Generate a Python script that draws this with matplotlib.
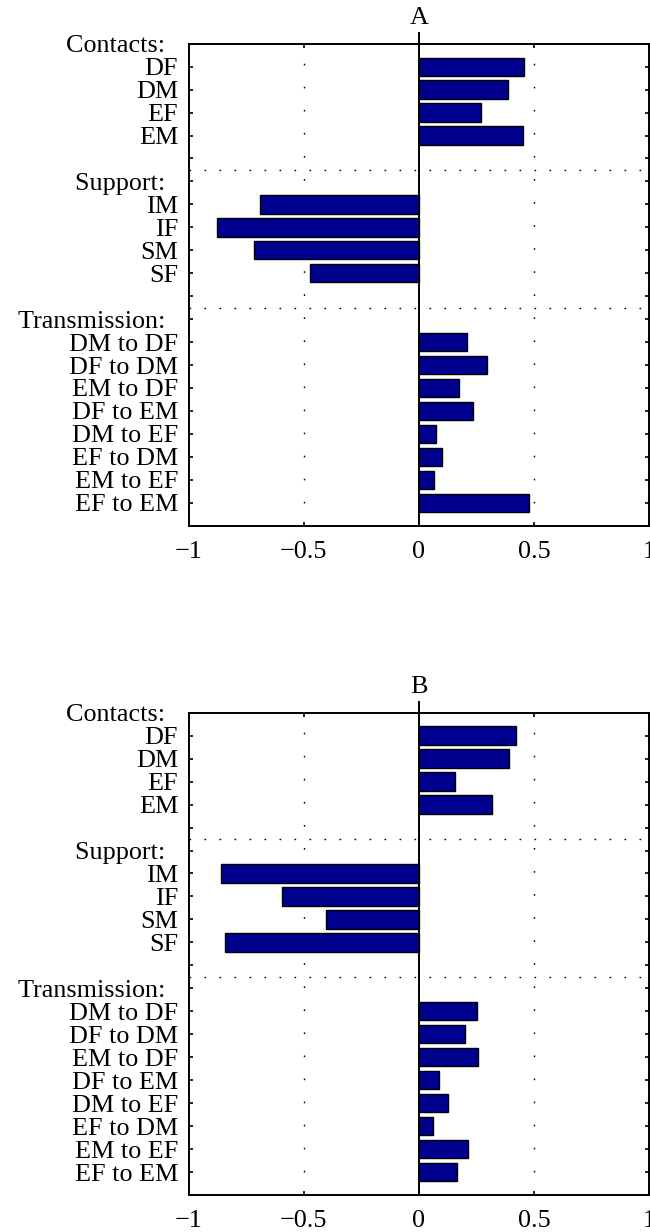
import matplotlib
matplotlib.use("Agg")
import matplotlib.pyplot as plt
import numpy as np

# ---- data ----
row_labels = ["Contacts:  ", "DF", "DM", "EF", "EM", "",
              "Support:  ", "IM", "IF", "SM", "SF", "",
              "Transmission:  ", "DM to DF", "DF to DM", "EM to DF", "DF to EM",
              "DM to EF", "EF to DM", "EM to EF", "EF to EM", ""]
bar_rows = [1, 2, 3, 4, 7, 8, 9, 10, 13, 14, 15, 16, 17, 18, 19, 20]
values_A = [0.459, 0.387, 0.272, 0.451,
            -0.692, -0.878, -0.716, -0.473,
            0.210, 0.297, 0.174, 0.236, 0.074, 0.099, 0.067, 0.480]
values_B = [0.423, 0.392, 0.156, 0.317,
            -0.858, -0.594, -0.403, -0.842,
            0.254, 0.201, 0.257, 0.086, 0.126, 0.061, 0.212, 0.164]
panel_titles = ["A", "B"]
separators = [5.5, 11.5]
xticks = [-1, -0.5, 0, 0.5, 1]
xtick_labels = ["\u22121", "\u22120.5", "0", "0.5", "1"]

plt.rcParams["font.family"] = ["Liberation Serif", "DejaVu Serif"]
FS = 18.8
bar_color = "#00008F"

fig = plt.figure(figsize=(6.5, 12.32), dpi=100)
positions = [[0.2902, 0.5733, 0.7083, 0.3912],
             [0.2902, 0.0300, 0.7083, 0.3915]]

for pos, title, vals in zip(positions, panel_titles, [values_A, values_B]):
    ax = fig.add_axes(pos)
    ax.barh(bar_rows, vals, height=0.8, color=bar_color, edgecolor="black",
            linewidth=1.0, zorder=3)
    ax.set_xlim(-1, 1)
    ax.set_ylim(len(row_labels) - 1, 0)
    ax.set_yticks(range(len(row_labels)))
    ax.set_yticklabels(row_labels, fontsize=FS)
    ax.set_xticks(xticks)
    ax.set_xticklabels(xtick_labels, fontsize=FS)
    # vertical dotted grid
    for xv in [-0.5, 0.5]:
        ax.axvline(xv, color="black", lw=1.0, linestyle=(0, (1.2, 15.4)), zorder=1)
    for yv in separators:
        ax.axhline(yv, color="black", lw=1.0, linestyle=(0, (1.2, 9.6)), zorder=1)
    # baseline at zero (extends above the axes)
    ax.plot([0, 0], [len(row_labels) - 1, -0.45], color="black", lw=1.4,
            clip_on=False, zorder=4)
    ax.tick_params(axis="y", direction="in", length=3, width=1.2, pad=7.6,
                   left=True, right=True)
    ax.tick_params(axis="x", direction="in", length=3, width=1.2, pad=11,
                   top=True, bottom=True)
    for sp in ax.spines.values():
        sp.set_linewidth(1.4)
    ax.set_title(title, fontsize=FS, pad=14.4)

fig.savefig("out.png", dpi=100)
